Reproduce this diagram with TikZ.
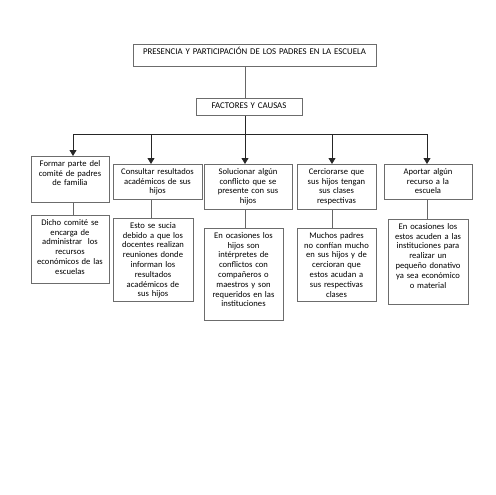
\documentclass[tikz,border=0pt]{standalone}
\usepackage{fontspec}
\setmainfont{Carlito}
\usepackage{tikz}
\usetikzlibrary{arrows.meta,calc}

\begin{document}
\begin{tikzpicture}[x=1pt,y=-1pt,
		caja/.style 2 args={draw=gray!85!black, line width=0.6pt, align=center, anchor=north,
			inner sep=3pt, text width=#1, text height=7pt, text depth=#2,
			font=\fontsize{8.6}{9.8}\selectfont},
		titulo/.style={font=\fontsize{8.8}{10}\selectfont},
		linea/.style={draw=gray!80!black, line width=0.8pt},
		flecha/.style={draw=black!85, line width=0.8pt, -{Triangle[width=7pt,length=6pt]}}]
		\useasboundingbox (0,0) rectangle (495,495);
		\coordinate (K1) at (73,134);
		\coordinate (K2) at (151,134);
		\coordinate (K3) at (245,134);
		\coordinate (K4) at (332,134);
		\coordinate (K5) at (427,134);
		\node[caja={237pt}{9pt}, titulo] (T) at (254.5,44) {PRESENCIA Y PARTICIPACIÓN DE LOS PADRES EN LA ESCUELA};
		\node[caja={100pt}{4pt}, titulo] (F) at (249,98) {FACTORES Y CAUSAS};
		\node[caja={72pt}{33pt}] (B1) at (70,156) {Formar parte del\\comité de padres\\de familia};
		\node[caja={83pt}{22pt}] (B2) at (157.5,164) {Consultar resultados\\académicos de sus\\hijos};
		\node[caja={82pt}{32pt}] (B3) at (248,164) {Solucionar algún\\conflicto que se\\presente con sus\\hijos};
		\node[caja={73pt}{32pt}] (B4) at (336.5,164) {Cerciorarse que\\sus hijos tengan\\sus clases\\respectivas};
		\node[caja={82pt}{22pt}] (B5) at (428,164) {Aportar algún\\recurso a la\\escuela};
		\node[caja={72pt}{55pt}] (C1) at (70,215) {Dicho comité se\\encarga de\\administrar\ \ los\\recursos\\económicos de las\\escuelas};
		\node[caja={74pt}{70pt}] (C2) at (153,218) {Esto se sucia\\debido a que los\\docentes realizan\\reuniones donde\\informan los\\resultados\\académicos de\\sus hijos};
		\node[caja={73pt}{79pt}] (C3) at (243.5,228) {En ocasiones los\\hijos son\\intérpretes de\\conflictos con\\compañeros o\\maestros y son\\requeridos en las\\instituciones};
		\node[caja={73pt}{60pt}] (C4) at (336.5,228) {Muchos padres\\no confían mucho\\en sus hijos y de\\cercioran que\\estos acudan a\\sus respectivas\\clases};
		\node[caja={74pt}{72pt}] (C5) at (428,219) {En ocasiones los\\estos acuden a las\\instituciones para\\realizar un\\pequeño donativo\\ya sea económico\\o material};
		\draw[linea] (T.south -| K3) -- (F.north -| K3);
		\draw[flecha, -] (F.south -| K3) -- (K3);
		\draw[flecha, -] (K1) -- (K5);
		\draw[flecha] (K1) -- (K1 |- B1.north);
		\draw[flecha] (K2) -- (K2 |- B2.north);
		\draw[flecha] (K3) -- (K3 |- B3.north);
		\draw[flecha] (K4) -- (K4 |- B4.north);
		\draw[flecha] (K5) -- (K5 |- B5.north);
		\draw[linea] (B1.south -| K1) -- (C1.north -| K1);
		\draw[linea] (B2.south -| K2) -- (C2.north -| K2);
		\draw[linea] (B3.south -| K3) -- (C3.north -| K3);
		\draw[linea] (B4.south -| K4) -- (C4.north -| K4);
		\draw[linea] (B5.south -| K5) -- (C5.north -| K5);
	\end{tikzpicture}
\end{document}
